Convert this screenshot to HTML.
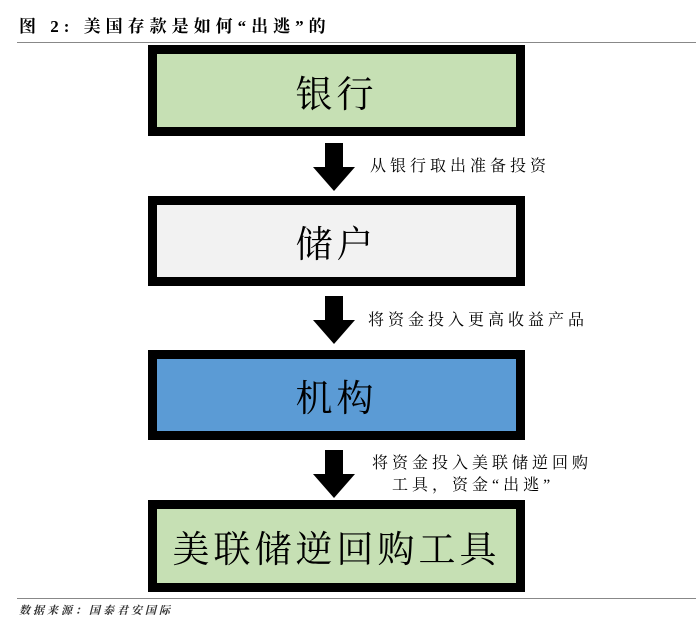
<!DOCTYPE html>
<html><head><meta charset="utf-8"><style>
body{margin:0;width:696px;height:629px;background:#fff;position:relative;overflow:hidden;font-family:"Liberation Serif","Noto Serif CJK SC",serif;}
.t{position:absolute;white-space:nowrap;color:#000}
.box{position:absolute;left:148px;width:359px;border:9px solid #000;display:flex;align-items:center;justify-content:center;font-size:37px;letter-spacing:4px;}
.arr{position:absolute;left:313px;width:42px}
.lb{font-size:16px;letter-spacing:4px}
</style></head><body>
<div class="t" style="left:19px;top:12px;font-size:17px;font-weight:bold;letter-spacing:5px">图 2: 美国存款是如何“出逃”的</div>
<div style="position:absolute;left:17px;right:0;top:42px;height:1px;background:#888"></div>
<div class="box" style="top:45px;height:73px;background:#c6e0b4">银行</div>
<div class="box" style="top:196px;height:72px;background:#f2f2f2">储户</div>
<div class="box" style="top:350px;height:72px;background:#5b9bd5">机构</div>
<div class="box" style="top:500px;height:74px;background:#c6e0b4">美联储逆回购工具</div>
<svg class="arr" style="top:143px" width="42" height="48"><polygon points="12,0 30,0 30,24 42,24 21,48 0,24 12,24" fill="#000"/></svg>
<svg class="arr" style="top:296px" width="42" height="48"><polygon points="12,0 30,0 30,24 42,24 21,48 0,24 12,24" fill="#000"/></svg>
<svg class="arr" style="top:450px" width="42" height="48"><polygon points="12,0 30,0 30,24 42,24 21,48 0,24 12,24" fill="#000"/></svg>
<div class="t lb" style="left:370px;top:153px">从银行取出准备投资</div>
<div class="t lb" style="left:368px;top:307px">将资金投入更高收益产品</div>
<div class="t lb" style="left:372px;top:450px">将资金投入美联储逆回购</div>
<div class="t lb" style="left:392px;top:472px">工具，资金“出逃”</div>
<div style="position:absolute;left:17px;right:0;top:598px;height:1px;background:#888"></div>
<div class="t" style="left:19px;top:602px;font-size:11px;font-style:italic;font-weight:bold;color:#333;letter-spacing:3px">数据来源：国泰君安国际</div>
</body></html>
